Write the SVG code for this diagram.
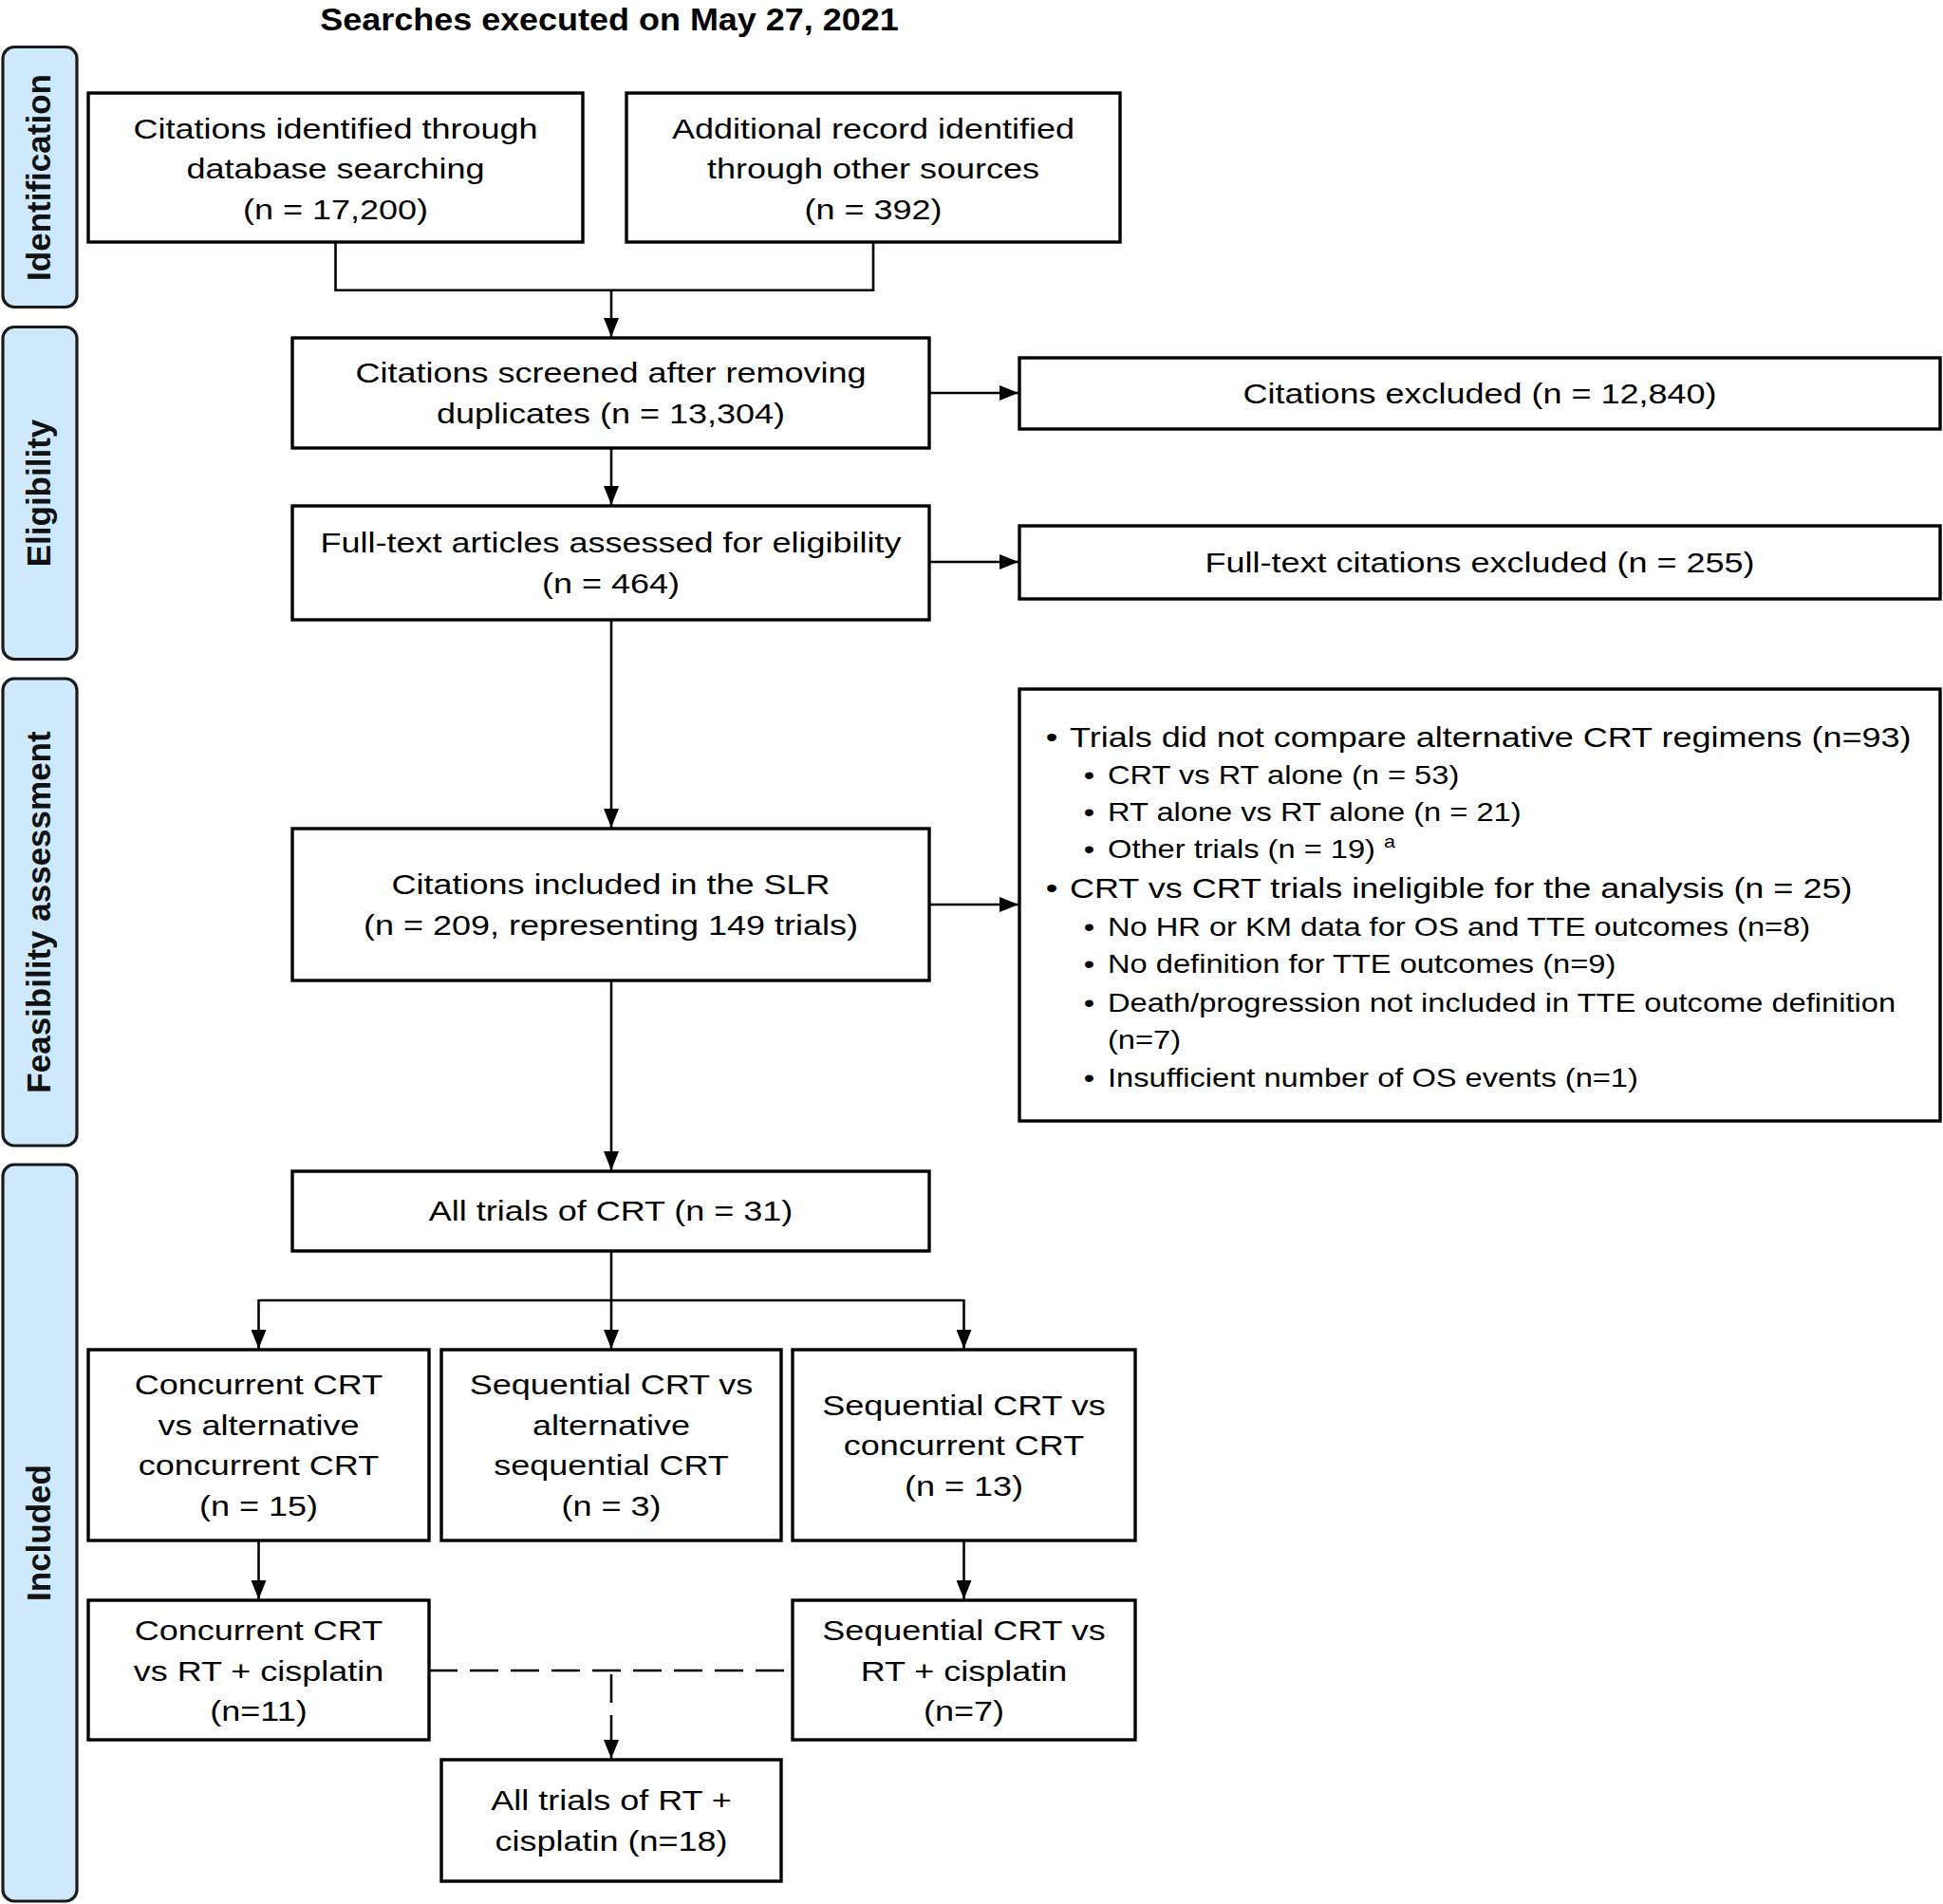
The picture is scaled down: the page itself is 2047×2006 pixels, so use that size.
<svg xmlns="http://www.w3.org/2000/svg" width="2047" height="2006" viewBox="0 0 2047 2006">
<style>
.bg{fill:#ffffff}
.box{fill:#ffffff;stroke:#000000;stroke-width:3.4}
.side{fill:#cde9fb;stroke:#1a1a1a;stroke-width:3.2}
.t{font-family:"Liberation Sans",Arial,sans-serif;font-size:30px;fill:#000000;text-anchor:middle}
.tl{font-family:"Liberation Sans",Arial,sans-serif;font-size:30px;fill:#000000;text-anchor:start}
.t2{font-family:"Liberation Sans",Arial,sans-serif;font-size:27.2px;fill:#000000;text-anchor:start}
.b2{font-family:"Liberation Sans",Arial,sans-serif;font-size:27.2px;fill:#000000;text-anchor:middle}
.st{font-family:"Liberation Sans",Arial,sans-serif;font-size:35px;font-weight:bold;fill:#111111;text-anchor:middle}
.title{font-family:"Liberation Sans",Arial,sans-serif;font-size:33px;font-weight:bold;fill:#000000;text-anchor:middle}
.ln{fill:none;stroke:#000000;stroke-width:2.6}
.dash{fill:none;stroke:#000000;stroke-width:2.6;stroke-dasharray:30 13}
</style>
<defs>
<marker id="ah" viewBox="0 0 20 16" refX="20" refY="8" markerWidth="20" markerHeight="16" markerUnits="userSpaceOnUse" orient="auto">
<path d="M0,0 L20,8 L0,16 z" fill="#000000" stroke="none"/>
</marker>
</defs>
<rect class="bg" x="0" y="0" width="2047" height="2006"/>

<text class="title" transform="translate(642,0) scale(1.09,1)" x="0" y="32">Searches executed on May 27, 2021</text>

<g id="phases">
<g id="phase-identification">
<rect class="side" x="3" y="49.5" width="78" height="274" rx="12"/>
<text class="st" transform="translate(53,187) rotate(-90)" x="0" y="0">Identification</text>
</g>
<g id="phase-eligibility">
<rect class="side" x="3" y="344.5" width="78" height="350" rx="12"/>
<text class="st" transform="translate(53,519.5) rotate(-90)" x="0" y="0">Eligibility</text>
</g>
<g id="phase-feasibility">
<rect class="side" x="3" y="715" width="78" height="492" rx="12"/>
<text class="st" transform="translate(53,961) rotate(-90)" x="0" y="0">Feasibility assessment</text>
</g>
<g id="phase-included">
<rect class="side" x="3" y="1227" width="78" height="776" rx="12"/>
<text class="st" transform="translate(53,1615) rotate(-90)" x="0" y="0">Included</text>
</g>
</g>

<g id="connectors">
<path class="ln" d="M353.5,255 V305.7 H920 V255"/>
<line class="ln" x1="644" y1="305.7" x2="644" y2="355" marker-end="url(#ah)"/>
<line class="ln" x1="644" y1="472" x2="644" y2="532" marker-end="url(#ah)"/>
<line class="ln" x1="979" y1="414" x2="1073" y2="414" marker-end="url(#ah)"/>
<line class="ln" x1="979" y1="592" x2="1073" y2="592" marker-end="url(#ah)"/>
<line class="ln" x1="644" y1="653" x2="644" y2="872" marker-end="url(#ah)"/>
<line class="ln" x1="979" y1="953" x2="1073" y2="953" marker-end="url(#ah)"/>
<line class="ln" x1="644" y1="1033" x2="644" y2="1233" marker-end="url(#ah)"/>
<path class="ln" d="M644,1318 V1370 M272.5,1370 H1015.5"/>
<line class="ln" x1="272.5" y1="1369" x2="272.5" y2="1421" marker-end="url(#ah)"/>
<line class="ln" x1="644" y1="1369" x2="644" y2="1421" marker-end="url(#ah)"/>
<line class="ln" x1="1015.5" y1="1369" x2="1015.5" y2="1421" marker-end="url(#ah)"/>
<line class="ln" x1="272.5" y1="1623" x2="272.5" y2="1685" marker-end="url(#ah)"/>
<line class="ln" x1="1015.5" y1="1623" x2="1015.5" y2="1685" marker-end="url(#ah)"/>
<path class="dash" d="M452,1760 H835"/>
<path class="dash" d="M644,1764 V1853" marker-end="url(#ah)"/>
</g>

<g id="n-db">
<rect class="box" x="93" y="98" width="521" height="157"/>
<text class="t" transform="translate(353.5,0) scale(1.2,1)"><tspan x="0" y="146">Citations identified through</tspan><tspan x="0" y="188.5">database searching</tspan><tspan x="0" y="231">(n = 17,200)</tspan></text>
</g>
<g id="n-other">
<rect class="box" x="660" y="98" width="520" height="157"/>
<text class="t" transform="translate(920,0) scale(1.2,1)"><tspan x="0" y="146">Additional record identified</tspan><tspan x="0" y="188.5">through other sources</tspan><tspan x="0" y="231">(n = 392)</tspan></text>
</g>
<g id="n-screened">
<rect class="box" x="308" y="356" width="671" height="116"/>
<text class="t" transform="translate(643.5,0) scale(1.2,1)"><tspan x="0" y="403.5">Citations screened after removing</tspan><tspan x="0" y="446">duplicates (n = 13,304)</tspan></text>
</g>
<g id="n-excluded">
<rect class="box" x="1074" y="377" width="970" height="75"/>
<text class="t" transform="translate(1559,0) scale(1.2,1)"><tspan x="0" y="425">Citations excluded (n = 12,840)</tspan></text>
</g>
<g id="n-fulltext">
<rect class="box" x="308" y="533" width="671" height="120"/>
<text class="t" transform="translate(643.5,0) scale(1.2,1)"><tspan x="0" y="582.5">Full-text articles assessed for eligibility</tspan><tspan x="0" y="625">(n = 464)</tspan></text>
</g>
<g id="n-ftexcluded">
<rect class="box" x="1074" y="554" width="970" height="77"/>
<text class="t" transform="translate(1559,0) scale(1.2,1)"><tspan x="0" y="603.5">Full-text citations excluded (n = 255)</tspan></text>
</g>
<g id="n-reasons">
<rect class="box" x="1074" y="726" width="970" height="455"/>
<text class="t" transform="translate(1108,0) scale(1.2,1)"><tspan x="0" y="787">•</tspan><tspan x="0" y="946">•</tspan></text>
<text class="b2" transform="translate(1147.5,0) scale(1.2,1)"><tspan x="0" y="826">•</tspan><tspan x="0" y="865">•</tspan><tspan x="0" y="904">•</tspan><tspan x="0" y="986">•</tspan><tspan x="0" y="1025">•</tspan><tspan x="0" y="1066">•</tspan><tspan x="0" y="1145">•</tspan></text>
<text class="tl" transform="translate(1127,0) scale(1.2,1)"><tspan x="0" y="787">Trials did not compare alternative CRT regimens (n=93)</tspan><tspan x="0" y="946">CRT vs CRT trials ineligible for the analysis (n = 25)</tspan></text>
<text class="t2" transform="translate(1167,0) scale(1.2,1)"><tspan x="0" y="826">CRT vs RT alone (n = 53)</tspan><tspan x="0" y="865">RT alone vs RT alone (n = 21)</tspan><tspan x="0" y="904">Other trials (n = 19) <tspan font-size="18" dy="-11">a</tspan></tspan><tspan x="0" y="986">No HR or KM data for OS and TTE outcomes (n=8)</tspan><tspan x="0" y="1025">No definition for TTE outcomes (n=9)</tspan><tspan x="0" y="1066">Death/progression not included in TTE outcome definition</tspan><tspan x="0" y="1105">(n=7)</tspan><tspan x="0" y="1145">Insufficient number of OS events (n=1)</tspan></text>
</g>
<g id="n-slr">
<rect class="box" x="308" y="873" width="671" height="160"/>
<text class="t" transform="translate(643.5,0) scale(1.2,1)"><tspan x="0" y="942.5">Citations included in the SLR</tspan><tspan x="0" y="985">(n = 209, representing 149 trials)</tspan></text>
</g>
<g id="n-allcrt">
<rect class="box" x="308" y="1234" width="671" height="84"/>
<text class="t" transform="translate(643.5,0) scale(1.2,1)"><tspan x="0" y="1286.5">All trials of CRT (n = 31)</tspan></text>
</g>
<g id="n-concalt">
<rect class="box" x="93" y="1422" width="359" height="201"/>
<text class="t" transform="translate(272.5,0) scale(1.2,1)"><tspan x="0" y="1469.5">Concurrent CRT</tspan><tspan x="0" y="1512">vs alternative</tspan><tspan x="0" y="1554.5">concurrent CRT</tspan><tspan x="0" y="1597">(n = 15)</tspan></text>
</g>
<g id="n-seqalt">
<rect class="box" x="465" y="1422" width="358" height="201"/>
<text class="t" transform="translate(644,0) scale(1.2,1)"><tspan x="0" y="1469.5">Sequential CRT vs</tspan><tspan x="0" y="1512">alternative</tspan><tspan x="0" y="1554.5">sequential CRT</tspan><tspan x="0" y="1597">(n = 3)</tspan></text>
</g>
<g id="n-seqconc">
<rect class="box" x="835" y="1422" width="361" height="201"/>
<text class="t" transform="translate(1015.5,0) scale(1.2,1)"><tspan x="0" y="1491">Sequential CRT vs</tspan><tspan x="0" y="1533.5">concurrent CRT</tspan><tspan x="0" y="1576">(n = 13)</tspan></text>
</g>
<g id="n-concrt">
<rect class="box" x="93" y="1686" width="359" height="147"/>
<text class="t" transform="translate(272.5,0) scale(1.2,1)"><tspan x="0" y="1728.5">Concurrent CRT</tspan><tspan x="0" y="1771">vs RT + cisplatin</tspan><tspan x="0" y="1813.5">(n=11)</tspan></text>
</g>
<g id="n-seqrt">
<rect class="box" x="835" y="1686" width="361" height="147"/>
<text class="t" transform="translate(1015.5,0) scale(1.2,1)"><tspan x="0" y="1728.5">Sequential CRT vs</tspan><tspan x="0" y="1771">RT + cisplatin</tspan><tspan x="0" y="1813.5">(n=7)</tspan></text>
</g>
<g id="n-allrt">
<rect class="box" x="465" y="1854" width="358" height="128"/>
<text class="t" transform="translate(644,0) scale(1.2,1)"><tspan x="0" y="1907.5">All trials of RT +</tspan><tspan x="0" y="1950">cisplatin (n=18)</tspan></text>
</g>
</svg>
